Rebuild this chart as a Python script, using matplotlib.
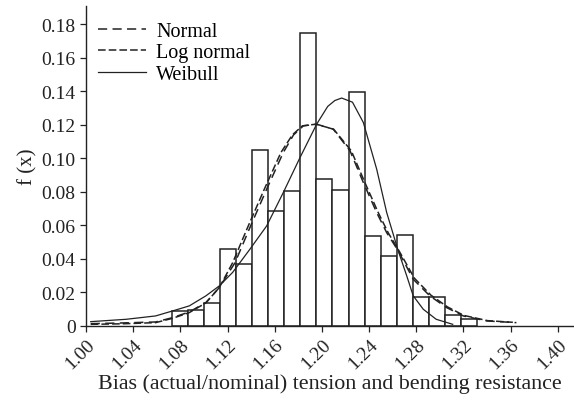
import numpy as np
import matplotlib.pyplot as plt

plt.rcParams['font.family'] = ['Liberation Serif', 'DejaVu Serif']

# histogram bins
bin_edges = [1.0727, 1.0862, 1.0998, 1.1135, 1.1271, 1.1408, 1.1544, 1.1681, 1.1817,
             1.1954, 1.2090, 1.2227, 1.2363, 1.2500, 1.2636, 1.2773, 1.2909, 1.3046,
             1.3182, 1.3319]
freq = [0.0090, 0.0094, 0.0137, 0.0462, 0.0368, 0.1049, 0.0687, 0.0806, 0.1747,
        0.0876, 0.0812, 0.1393, 0.0535, 0.0418, 0.0543, 0.0173, 0.0173, 0.0066, 0.0044]

# fitted curves, points
normal_x = [1.004, 1.030, 1.059, 1.0735, 1.0876, 1.1017, 1.113, 1.1264, 1.139, 1.1532,
            1.1673, 1.176, 1.1843, 1.1956, 1.2097, 1.2239, 1.2352, 1.2465, 1.255, 1.2648,
            1.2775, 1.2917, 1.3058, 1.320, 1.340, 1.365]
normal_y = [0.0014, 0.0018, 0.0024, 0.0050, 0.0084, 0.0140, 0.0229, 0.0378, 0.0587, 0.0816,
            0.1035, 0.1140, 0.1194, 0.1204, 0.1174, 0.1045, 0.0856, 0.0677, 0.0557, 0.0448,
            0.0279, 0.0179, 0.0110, 0.0060, 0.0030, 0.0020]

lognorm_x = [1.004, 1.030, 1.059, 1.0735, 1.0876, 1.1017, 1.113, 1.1244, 1.137, 1.1512,
             1.1653, 1.175, 1.1835, 1.1950, 1.2100, 1.2250, 1.2365, 1.2478, 1.2562, 1.2655,
             1.2785, 1.2925, 1.3065, 1.3205, 1.3405, 1.362]
lognorm_y = [0.0010, 0.0013, 0.0020, 0.0046, 0.0080, 0.0138, 0.0229, 0.0378, 0.0587, 0.0816,
             0.1035, 0.1140, 0.1194, 0.1204, 0.1174, 0.1045, 0.0856, 0.0677, 0.0557, 0.0448,
             0.0285, 0.0184, 0.0114, 0.0063, 0.0032, 0.0022]

weibull_x = [1.004, 1.034, 1.059, 1.0735, 1.0876, 1.1017, 1.113, 1.1244, 1.139, 1.1532,
             1.1673, 1.1815, 1.1956, 1.205, 1.2110, 1.2168, 1.226, 1.2352, 1.2465, 1.255,
             1.2648, 1.272, 1.2775, 1.286, 1.297, 1.311]
weibull_y = [0.0026, 0.0040, 0.0060, 0.0090, 0.0120, 0.0180, 0.0239, 0.0320, 0.0458, 0.0597,
             0.0796, 0.1005, 0.1204, 0.1310, 0.1345, 0.1360, 0.1335, 0.1214, 0.0936, 0.0677,
             0.0448, 0.0299, 0.0180, 0.0100, 0.0040, 0.0010]

xticks = [1.00, 1.04, 1.08, 1.12, 1.16, 1.20, 1.24, 1.28, 1.32, 1.36, 1.40]
yticks = [0, 0.02, 0.04, 0.06, 0.08, 0.10, 0.12, 0.14, 0.16, 0.18]

fig = plt.figure(figsize=(5.74, 4.02), dpi=100)
ax = fig.add_axes([86 / 574, 1 - 327 / 402, (573 - 86) / 574, (327 - 7) / 402])

edges = np.array(bin_edges)
ax.bar(edges[:-1], freq, width=np.diff(edges), align='edge',
       facecolor='white', edgecolor='#222222', linewidth=1.1, zorder=1)

ax.plot(normal_x, normal_y, color='#222222', lw=1.1, dashes=(6, 3.5), label='Normal', zorder=3)
ax.plot(lognorm_x, lognorm_y, color='#222222', lw=1.1, dashes=(5, 2), label='Log normal', zorder=3)
ax.plot(weibull_x, weibull_y, color='#222222', lw=0.9, label='Weibull', zorder=3)

ax.set_xlim(1.0, 1.413)
ax.set_ylim(0, 0.1909)
ax.set_xticks(xticks)
ax.set_xticklabels([f'{t:.2f}' for t in xticks], rotation=45, ha='right',
                   rotation_mode='anchor')
ax.set_yticks(yticks)
ax.set_yticklabels(['0'] + [f'{t:.2f}' for t in yticks[1:]])
ax.tick_params(labelsize=14, direction='out', length=4, width=0.9, colors='#222222')
ax.tick_params(axis='x', pad=3)

for side in ['top', 'right']:
    ax.spines[side].set_visible(False)
for side in ['left', 'bottom']:
    ax.spines[side].set_linewidth(1.0)
    ax.spines[side].set_color('#222222')

ax.set_xlabel('Bias (actual/nominal) tension and bending resistance', fontsize=15.8,
              color='#222222', labelpad=1)
ax.set_ylabel('f (x)', fontsize=15, color='#222222', labelpad=3)

ax.legend(loc='upper left', bbox_to_anchor=(-0.005, 0.995), frameon=False, fontsize=14.5,
          handlelength=2.4, handletextpad=0.5, labelspacing=0.12, borderpad=0.2)

fig.savefig('out.png', dpi=100)
